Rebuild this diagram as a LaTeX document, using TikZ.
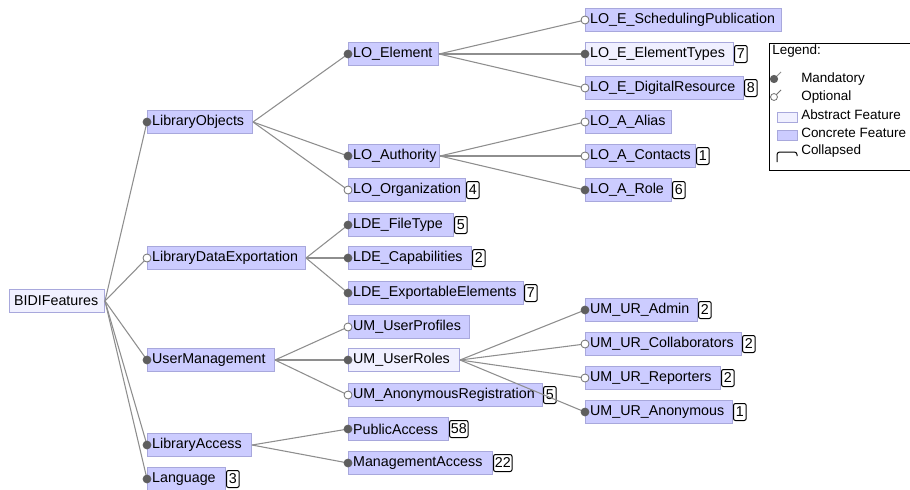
\documentclass[tikz,border=0pt]{standalone}
\usepackage{fontspec}
\newfontfamily\lsans{Liberation Sans}
\newcommand\featfont{\lsans\fontsize{10.7pt}{12pt}\selectfont\hyphenpenalty=10000\exhyphenpenalty=10000}
\newcommand\legfont{\lsans\fontsize{10.1pt}{12pt}\selectfont}
\definecolor{concfill}{HTML}{CCCCFF}
\definecolor{absfill}{HTML}{F0F0FF}
\definecolor{featborder}{HTML}{A8A8DC}
\definecolor{edgegray}{HTML}{8E8E8E}
\definecolor{mandgray}{HTML}{5E5E5E}
\definecolor{optgray}{HTML}{707070}
\tikzset{
 feat/.style={draw=featborder, fill=concfill, anchor=west, minimum height=17pt, inner xsep=3.5pt, inner ysep=0pt,
   /utils/exec={\pgfmathsetlengthmacro\featw{#1*0.75pt-7pt}}, text width=\featw, align=left,
   font=\featfont, line width=0.75pt},
 abst/.style={fill=absfill},
 cnt/.style={draw=black, fill=white, rounded corners=1.5pt, anchor=west, minimum height=12.75pt, minimum width=9.5pt, inner xsep=1pt, inner ysep=0pt, font=\featfont, line width=0.75pt},
 edge/.style={draw=edgegray, line width=0.8pt},
 mand/.style={fill=mandgray, draw=mandgray, line width=0.5pt},
 opt/.style={fill=white, draw=optgray, line width=0.6pt},
 lgtext/.style={anchor=west, inner sep=0pt, font=\legfont},
}
\begin{document}
\begin{tikzpicture}[x=0.75pt,y=-0.75pt]
\useasboundingbox (0,0) rectangle (910,489);
\clip (0,0) rectangle (910,489);
% root
\node[feat=95, abst] (root) at (9,301) {BIDIFeatures};
% level 1
\node[feat=105] (LO) at (147,122) {LibraryObjects};
\node[feat=158] (LDE) at (147,258) {LibraryDataExportation};
\node[feat=127] (UM) at (147,360) {UserManagement};
\node[feat=104] (LA) at (147,445) {LibraryAccess};
\node[feat=78] (LG) at (147,479) {Language};
\node[cnt] (LGc) at (LG.east) {3};
% level 2
\node[feat=90] (LOE) at (348,54) {LO\_Element};
\node[feat=91] (LOA) at (348,156) {LO\_Authority};
\node[feat=117] (LOO) at (348,190) {LO\_Organization};
\node[cnt] (LOOc) at (LOO.east) {4};
\node[feat=105] (LDEF) at (348,225) {LDE\_FileType};
\node[cnt] (LDEFc) at (LDEF.east) {5};
\node[feat=123] (LDEC) at (348,258) {LDE\_Capabilities};
\node[cnt] (LDECc) at (LDEC.east) {2};
\node[feat=175] (LDEE) at (348,293) {LDE\_ExportableElements};
\node[cnt] (LDEEc) at (LDEE.east) {7};
\node[feat=121] (UMP) at (348,327) {UM\_UserProfiles};
\node[feat=111, abst] (UMR) at (348,360) {UM\_UserRoles};
\node[feat=194] (UMA) at (348,395) {UM\_AnonymousRegistration};
\node[cnt] (UMAc) at (UMA.east) {5};
\node[feat=100] (PA) at (348,429) {PublicAccess};
\node[cnt] (PAc) at (PA.east) {58};
\node[feat=144] (MA) at (348,463) {ManagementAccess};
\node[cnt] (MAc) at (MA.east) {22};
% level 3
\node[feat=196] (LOES) at (585,20) {LO\_E\_SchedulingPublication};
\node[feat=148, abst] (LOET) at (585,54) {LO\_E\_ElementTypes};
\node[cnt] (LOETc) at (LOET.east) {7};
\node[feat=158] (LOED) at (585,88) {LO\_E\_DigitalResource};
\node[cnt] (LOEDc) at (LOED.east) {8};
\node[feat=86] (LOAA) at (585,122) {LO\_A\_Alias};
\node[feat=110] (LOAC) at (585,156) {LO\_A\_Contacts};
\node[cnt] (LOACc) at (LOAC.east) {1};
\node[feat=86] (LOAR) at (585,190) {LO\_A\_Role};
\node[cnt] (LOARc) at (LOAR.east) {6};
\node[feat=112] (URA) at (585,310) {UM\_UR\_Admin};
\node[cnt] (URAc) at (URA.east) {2};
\node[feat=156] (URC) at (585,344) {UM\_UR\_Collaborators};
\node[cnt] (URCc) at (URC.east) {2};
\node[feat=135] (URR) at (585,378) {UM\_UR\_Reporters};
\node[cnt] (URRc) at (URR.east) {2};
\node[feat=147] (URN) at (585,412) {UM\_UR\_Anonymous};
\node[cnt] (URNc) at (URN.east) {1};
% edges
\foreach \c in {LO,LDE,UM,LA,LG} \draw[edge] (root.east) -- (\c.west);
\foreach \c in {LOE,LOA,LOO} \draw[edge] (LO.east) -- (\c.west);
\foreach \c in {LDEF,LDEC,LDEE} \draw[edge] (LDE.east) -- (\c.west);
\foreach \c in {UMP,UMR,UMA} \draw[edge] (UM.east) -- (\c.west);
\foreach \c in {PA,MA} \draw[edge] (LA.east) -- (\c.west);
\foreach \c in {LOES,LOET,LOED} \draw[edge] (LOE.east) -- (\c.west);
\foreach \c in {LOAA,LOAC,LOAR} \draw[edge] (LOA.east) -- (\c.west);
\foreach \c in {URA,URC,URR,URN} \draw[edge] (UMR.east) -- (\c.west);
% circles
\foreach \c in {LO,UM,LA,LG,LOE,LOA,LDEF,LDEC,LDEE,UMR,PA,MA,LOET,LOAR,URA,URN}
  \filldraw[mand] (\c.west) circle (3pt);
\foreach \c in {LDE,LOO,UMP,UMA,LOES,LOED,LOAA,LOAC,URC,URR}
  \filldraw[opt] (\c.west) circle (3pt);
% legend
\draw[black, fill=white, line width=0.75pt] (769,43) rectangle (920,170);
\node[lgtext] (lgT) at (772,51) {Legend:};
\coordinate (lgM) at (774,79);
\draw[edgegray, line width=0.6pt] (lgM) -- ++(7,-7);
\filldraw[mand] (lgM) circle (2.8pt);
\node[lgtext] (lgMt) at (801,79) {Mandatory};
\coordinate (lgO) at (774,97);
\draw[optgray, line width=0.6pt] (lgO) -- ++(7,-7);
\filldraw[opt] (lgO) circle (2.6pt);
\node[lgtext] (lgOt) at (801,97) {Optional};
\draw[featborder, fill=absfill, line width=0.75pt] (777,112) rectangle (797,122);
\node[lgtext] (lgAt) at (801,115) {Abstract Feature};
\draw[featborder, fill=concfill, line width=0.75pt] (777,130) rectangle (797,140);
\node[lgtext] (lgCt) at (801,133) {Concrete Feature};
\draw[black, line width=0.75pt, rounded corners=2pt] (777,162) -- (777,152) -- (797,152) -- (797,156);
\node[lgtext] (lgKt) at (801,151) {Collapsed};
\end{tikzpicture}
\end{document}
